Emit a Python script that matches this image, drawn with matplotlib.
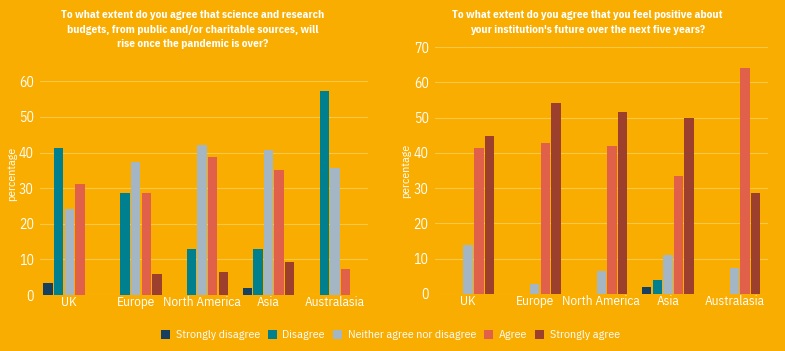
import numpy as np
import matplotlib.pyplot as plt
from matplotlib.patches import Patch

REGIONS = ["UK", "Europe", "North America", "Asia", "Australasia"]
RESPONSES = ["Strongly disagree", "Disagree", "Neither agree nor disagree",
             "Agree", "Strongly agree"]

# left chart: budgets will rise after the pandemic (percent)
budget_strongly_disagree = [3.5, 0, 0, 1.9, 0]
budget_disagree          = [41.3, 28.6, 12.9, 12.9, 57.2]
budget_neither           = [24.2, 37.3, 42.0, 40.8, 35.7]
budget_agree             = [31.1, 28.6, 38.7, 35.2, 7.2]
budget_strongly_agree    = [0, 5.8, 6.6, 9.4, 0]

# right chart: positive about institution's future (percent)
future_strongly_disagree = [0, 0, 0, 2.0, 0]
future_disagree          = [0, 0, 0, 3.9, 0]
future_neither           = [13.9, 2.8, 6.5, 11.2, 7.4]
future_agree             = [41.4, 42.9, 42.0, 33.4, 64.2]
future_strongly_agree    = [44.8, 54.3, 51.7, 50.0, 28.6]

TITLE_L = ("To what extent do you agree that science and research\n"
           "budgets, from public and/or charitable sources, will\n"
           "rise once the pandemic is over?")
TITLE_R = ("To what extent do you agree that you feel positive about\n"
           "your institution's future over the next five years?")

BG = "#f8ad00"
GRID = "#fbc747"
COLORS = ["#173f5f", "#00808e", "#a4b6c4", "#e0604a", "#9c3f2c"]
FONT = ["IBM Plex Sans Condensed", "DejaVu Sans"]

plt.rcParams.update({
    "font.family": FONT, "text.color": "white",
    "xtick.color": "white", "ytick.color": "white",
    "axes.labelcolor": "white",
})

fig = plt.figure(figsize=(7.85, 3.51), dpi=100, facecolor=BG)
ax_l = fig.add_axes([0.051, 0.1595, 0.418, 0.609])
ax_r = fig.add_axes([0.554, 0.1624, 0.424, 0.703])

left_series = [budget_strongly_disagree, budget_disagree, budget_neither,
               budget_agree, budget_strongly_agree]
right_series = [future_strongly_disagree, future_disagree, future_neither,
                future_agree, future_strongly_agree]

x = np.arange(len(REGIONS))
step = 0.16
for ax, series, top, xl in [(ax_l, left_series, 60, (-0.44, 4.5)),
                            (ax_r, right_series, 70, (-0.5, 4.5))]:
    ax.set_facecolor(BG)
    for i, (vals, c) in enumerate(zip(series, COLORS)):
        ax.bar(x + (i - 2) * step, vals, width=step * 0.88, color=c, zorder=3)
    ax.set_ylim(0, top)
    ax.set_xlim(*xl)
    ax.set_yticks(np.arange(0, top + 1, 10))
    ax.yaxis.grid(True, color=GRID, lw=0.8, zorder=0)
    ax.set_xticks(x)
    ax.set_xticklabels(REGIONS)
    ax.tick_params(axis="x", length=0, labelsize=9.5, pad=1)
    ax.tick_params(axis="y", length=0, labelsize=10, pad=4.5)
    for s in ax.spines.values():
        s.set_visible(False)
    ax.set_ylabel("percentage", fontsize=8.5, labelpad=2)

# left label sits a bit above the axis centre in the original
ax_l.yaxis.set_label_coords(-0.07, 0.565)

fig.text(0.245, 0.972, TITLE_L, ha="center", va="top", fontsize=8.2,
         fontweight="bold", linespacing=1.6)
fig.text(0.748, 0.972, TITLE_R, ha="center", va="top", fontsize=8.2,
         fontweight="bold", linespacing=1.6)

handles = [Patch(facecolor=c, label=r) for c, r in zip(COLORS, RESPONSES)]
fig.legend(handles=handles, loc="center", bbox_to_anchor=(0.4975, 0.045),
           ncol=5, frameon=False, fontsize=8.6, handlelength=0.75,
           handleheight=0.75, handletextpad=0.45, columnspacing=0.7,
           labelcolor="white")

fig.savefig("out.png", dpi=100, facecolor=BG)
